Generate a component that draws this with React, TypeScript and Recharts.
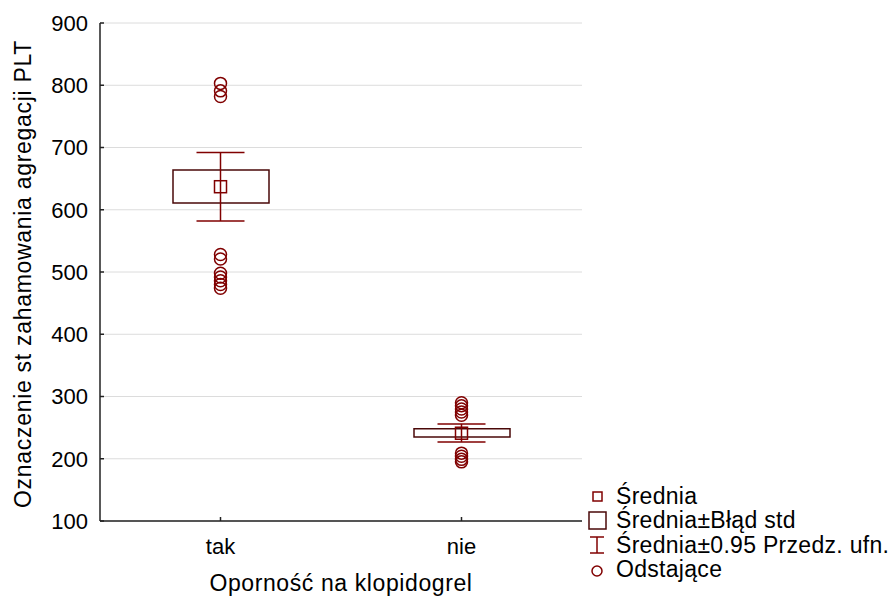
// Box-style chart: mean, mean±SE box, 95% CI whiskers and outliers per group.

import {
  ComposedChart,
  Bar,
  Scatter,
  ErrorBar,
  XAxis,
  YAxis,
  CartesianGrid,
} from "recharts";

const groups = ["tak", "nie"];
const means = [637, 241];
const seLow = [611, 235];
const seHigh = [664, 248];
const ciLow = [582, 227];
const ciHigh = [692, 256];
const outliersTak = [803, 791, 782, 528, 521, 498, 492, 486, 480, 474];
const outliersNie = [290, 285, 280, 275, 270, 209, 204, 199, 195];
const yTicks = [100, 200, 300, 400, 500, 600, 700, 800, 900];

const MAROON = "#800000";
const BOX = "#4a0808";
const FONT = "'Liberation Sans', Arial, sans-serif";
const FS = 22;
const FS_TITLE = 23;

const rows = groups.map((g, i) => ({
  g,
  mean: means[i],
  se: [seLow[i], seHigh[i]],
  ci: [means[i] - ciLow[i], ciHigh[i] - means[i]],
}));

const outliers = [
  ...outliersTak.map((v) => ({ g: "tak", v })),
  ...outliersNie.map((v) => ({ g: "nie", v })),
];

const tickStyle = { fill: "#000", fontSize: FS, fontFamily: FONT };

function YLabel({ viewBox }: any) {
  const cy = viewBox.y + viewBox.height / 2 + 2;
  const x = 31;
  return (
    <text
      x={x}
      y={cy}
      transform={`rotate(-90, ${x}, ${cy})`}
      textAnchor="middle"
      fill="#000"
      fontSize={FS_TITLE}
      fontFamily={FONT}
      letterSpacing={0.7}
    >
      Oznaczenie st zahamowania agregacji PLT
    </text>
  );
}

function XLabel({ viewBox }: any) {
  const cx = viewBox.x + viewBox.width / 2;
  return (
    <text
      x={cx}
      y={viewBox.y + viewBox.height - 5}
      textAnchor="middle"
      fill="#000"
      fontSize={FS_TITLE}
      fontFamily={FONT}
      letterSpacing={0.6}
    >
      Oporność na klopidogrel
    </text>
  );
}

function Legend() {
  const item = (icon: any, text: string) => (
    <div style={{ display: "flex", alignItems: "center", height: 24.5 }}>
      <svg width={22} height={24} style={{ marginRight: 8 }}>
        {icon}
      </svg>
      <span>{text}</span>
    </div>
  );
  return (
    <div
      style={{
        position: "absolute",
        left: 586,
        top: 484,
        fontFamily: FONT,
        fontSize: FS_TITLE,
        letterSpacing: 0.3,
        color: "#000",
        lineHeight: 1,
        whiteSpace: "nowrap",
      }}
    >
      {item(<rect x={7} y={8} width={9} height={9} fill="none" stroke={MAROON} strokeWidth={1.5} />, "Średnia")}
      {item(<rect x={3} y={3} width={17} height={17} fill="none" stroke={BOX} strokeWidth={1.5} />, "Średnia±Błąd std")}
      {item(
        <g stroke={MAROON} strokeWidth={1.5}>
          <line x1={4} y1={4} x2={18} y2={4} />
          <line x1={11} y1={4} x2={11} y2={20} />
          <line x1={4} y1={20} x2={18} y2={20} />
        </g>,
        "Średnia±0.95 Przedz. ufn."
      )}
      {item(<circle cx={11} cy={13} r={5} fill="none" stroke={MAROON} strokeWidth={1.5} />, "Odstające")}
    </div>
  );
}

export default function App() {
  return (
    <div style={{ position: "absolute", left: 0, top: 0, width: 890, height: 596, background: "#fff" }}>
      <ComposedChart
        width={890}
        height={596}
        data={rows}
        margin={{ top: 23, right: 308, bottom: 0, left: 0 }}
      >
        <CartesianGrid vertical={false} stroke="#dcdcdc" />
        <XAxis
          dataKey="g"
          type="category"
          allowDuplicatedCategory={false}
          height={75}
          tickSize={-4}
          tickMargin={21}
          tick={tickStyle}
          stroke="#222"
          strokeWidth={1.5}
          label={{ content: XLabel }}
        />
        <XAxis
          xAxisId="top"
          dataKey="g"
          orientation="top"
          allowDuplicatedCategory={false}
          height={0}
          tick={false}
          tickLine={false}
          stroke="#222"
          strokeWidth={1.5}
        />
        <YAxis
          domain={[100, 900]}
          ticks={yTicks}
          width={100}
          tickSize={-4}
          tickMargin={16}
          tick={tickStyle}
          stroke="#222"
          strokeWidth={1.5}
          label={{ content: YLabel }}
        />
        <YAxis
          yAxisId="right"
          orientation="right"
          domain={[100, 900]}
          ticks={yTicks}
          width={0}
          tick={false}
          tickLine={false}
          stroke="#222"
          strokeWidth={1.5}
        />
        <Scatter
          dataKey="mean"
          shape={() => <g />}
          isAnimationActive={false}
        >
          <ErrorBar dataKey="ci" direction="y" width={24} stroke={MAROON} strokeWidth={1.5} isAnimationActive={false} />
        </Scatter>
        <Bar
          dataKey="se"
          barSize={96}
          fill="#fff"
          stroke={BOX}
          strokeWidth={1.5}
          isAnimationActive={false}
        />
        <Scatter
          dataKey="mean"
          isAnimationActive={false}
          shape={(p: any) => (
            <rect x={p.cx - 6} y={p.cy - 6} width={12} height={12} fill="none" stroke={MAROON} strokeWidth={1.5} />
          )}
        />
        <Scatter
          data={outliers}
          dataKey="v"
          isAnimationActive={false}
          shape={(p: any) => (
            <circle cx={p.cx} cy={p.cy} r={6} fill="none" stroke={MAROON} strokeWidth={1.5} />
          )}
        />
      </ComposedChart>
      <Legend />
    </div>
  );
}
